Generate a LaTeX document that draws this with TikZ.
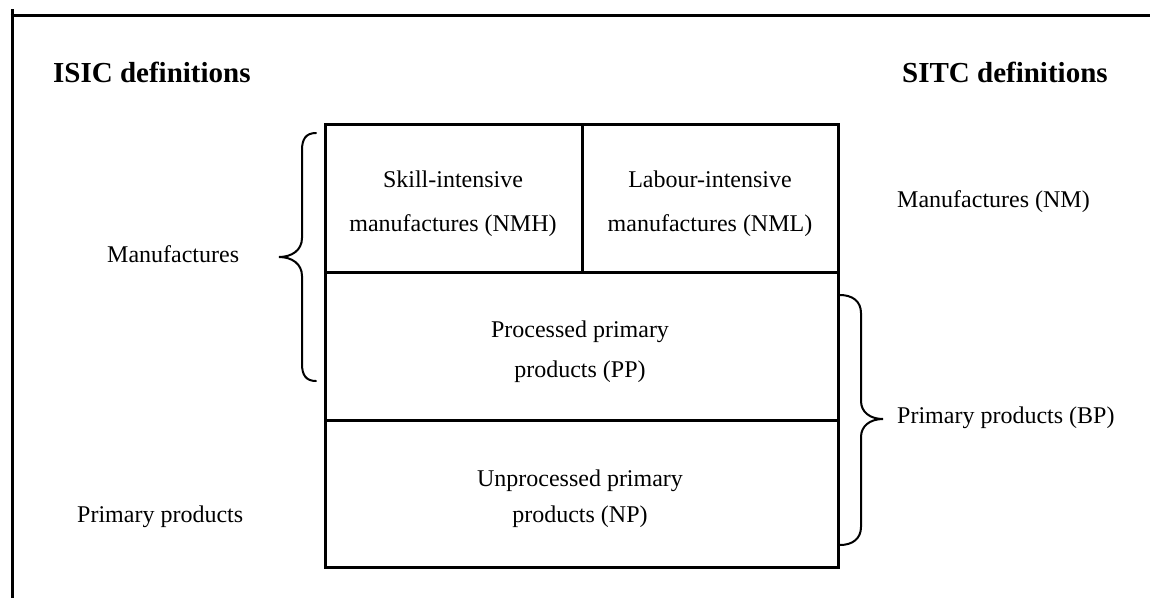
\documentclass[tikz,border=0pt]{standalone}
\usepackage{fontspec}
\setmainfont{Liberation Serif}
\begin{document}
\begin{tikzpicture}[x=1pt,y=-1pt,
  txt/.style={font=\fontsize{24}{40}\selectfont, inner sep=0pt, align=center},
  head/.style={font=\fontsize{29}{34}\selectfont\bfseries, inner sep=0pt},
  frameline/.style={line width=3pt},
  gridline/.style={line width=3pt},
  bracepath/.style={line width=2pt, line cap=round}]
\useasboundingbox (0,0) rectangle (1150,598);
% frame
\draw[frameline] (12,9) -- (12,598);
\draw[frameline] (10.5,15) -- (1150,15);
% grid
\coordinate (tl) at (325,124);
\coordinate (br) at (838,567);
\draw[gridline] (tl) rectangle (br);
\draw[gridline] (325,272) -- (838,272);
\draw[gridline] (325,420) -- (838,420);
\draw[gridline] (582,124) -- (582,272);
% headings
\node[head, anchor=base west] (isic) at (53,82) {ISIC definitions};
\node[head, anchor=base west] (sitc) at (902,82) {SITC definitions};
% cell texts
\node[txt] (nmh) at (453,204) {Skill-intensive\\[4pt]manufactures (NMH)};
\node[txt] (nml) at (710,204) {Labour-intensive\\[4pt]manufactures (NML)};
\node[txt] (pp) at (580,352) {Processed primary\\products (PP)};
\node[txt] (np) at (580,499) {Unprocessed primary\\[-4pt]products (NP)};
% side labels
\node[txt, anchor=base west] (man) at (107,262) {Manufactures};
\node[txt, anchor=base west] (prim) at (77,522) {Primary products};
\node[txt, anchor=base west] (nm) at (897,207) {Manufactures (NM)};
\node[txt, anchor=base west] (bp) at (897,423) {Primary products (BP)};
% braces
\coordinate (ltip) at (279,257);
\coordinate (rtip) at (883,419);
\draw[bracepath] (316,133) .. controls (306,133) and (302,139) .. (302,150)
  -- (302,238) .. controls (302,250) and (292,257) .. (ltip)
  .. controls (292,257) and (302,264) .. (302,276)
  -- (302,364) .. controls (302,375) and (306,381) .. (316,381);
\draw[bracepath] (840,295) .. controls (852,295) and (861,301) .. (861,313)
  -- (861,401) .. controls (861,412) and (870,419) .. (rtip)
  .. controls (870,419) and (861,426) .. (861,437)
  -- (861,527) .. controls (861,539) and (852,545) .. (840,545);
\end{tikzpicture}
\end{document}
